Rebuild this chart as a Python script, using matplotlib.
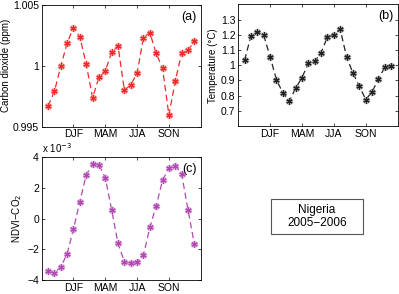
import matplotlib
matplotlib.use("Agg")
import matplotlib.pyplot as plt
from matplotlib.patches import Rectangle
import numpy as np

plt.rcParams['font.family'] = ['Liberation Sans', 'DejaVu Sans']

months = list(range(1, 25))
season_ticks = [5, 10, 15, 20]
season_labels = ['DJF', 'MAM', 'JJA', 'SON']

co2 = [0.99670, 0.99790, 0.99996, 1.00188, 1.00314, 1.00237, 1.00015, 0.99738,
       0.99905, 0.99958, 1.00111, 1.00163, 0.99801, 0.99842, 0.99941, 1.00232,
       1.00273, 1.00103, 0.99979, 0.99596, 0.99875, 1.00103, 1.00130, 1.00201]
temp = [1.033, 1.194, 1.221, 1.197, 1.057, 0.904, 0.819, 0.762, 0.849, 0.919,
        1.013, 1.026, 1.083, 1.186, 1.201, 1.236, 1.055, 0.948, 0.862, 0.775,
        0.825, 0.910, 0.987, 0.998]
ndvi_co2_e3 = [-3.41, -3.52, -3.17, -2.28, -0.67, 1.11, 2.87, 3.54, 3.52, 2.67,
               0.57, -1.61, -2.80, -2.91, -2.80, -2.39, -0.57, 0.83, 2.50, 3.33,
               3.46, 2.93, 0.59, -1.65]

fig = plt.figure(figsize=(3.99, 2.94), dpi=100)
ax_a = fig.add_axes([0.1045, 0.569, 0.3985, 0.414])
ax_b = fig.add_axes([0.597, 0.571, 0.3995, 0.414])
ax_c = fig.add_axes([0.1045, 0.0476, 0.3985, 0.417])

fs = 7.5
lfs = 7

def draw(ax, y, col, halo, label):
    ax.plot(months, y, color=col, lw=0.9, dashes=(5, 3), zorder=2)
    ax.plot(months, y, ls='none', marker='o', ms=5.5, mfc=halo, mec='none', alpha=0.6, zorder=3)
    ax.plot(months, y, ls='none', marker=(6, 2, 0), ms=4.5, mec=col, mew=0.9, zorder=4)
    ax.plot(months, y, ls='none', marker='o', ms=2, mfc=col, mec='none', zorder=5)
    ax.set_xlim(0, 25)
    ax.set_xticks(season_ticks)
    ax.set_xticklabels(season_labels)
    ax.tick_params(direction='in', length=2.5, width=0.5, labelsize=fs, top=True, right=True, pad=2)
    for s in ax.spines.values():
        s.set_linewidth(0.6)
    ax.text(0.975, 0.905, label, transform=ax.transAxes, ha='right', va='center', fontsize=9)

draw(ax_a, co2, '#ee2a2a', '#ff9c9c', '(a)')
ax_a.set_ylim(0.995, 1.005)
ax_a.set_yticks([0.995, 1.0, 1.005])
ax_a.set_yticklabels(['0.995', '1', '1.005'])
ax_a.set_ylabel('Carbon dioxide (ppm)', fontsize=lfs, labelpad=1.5)

draw(ax_b, temp, '#222222', '#aaaaaa', '(b)')
ax_b.set_ylim(0.6, 1.4)
ax_b.set_yticks([0.7, 0.8, 0.9, 1.0, 1.1, 1.2, 1.3])
ax_b.set_yticklabels(['0.7', '0.8', '0.9', '1', '1.1', '1.2', '1.3'])
ax_b.set_ylabel('Temperature (\u00b0C)', fontsize=lfs, labelpad=2)

draw(ax_c, ndvi_co2_e3, '#b04ab0', '#dba6db', '(c)')
ax_c.set_ylim(-4, 4)
ax_c.set_yticks([-4, -2, 0, 2, 4])
ax_c.set_yticklabels(['\u22124', '\u22122', '0', '2', '4'])
ax_c.set_ylabel('NDVI\u2212CO$_2$', fontsize=lfs, labelpad=2)
ax_c.text(0.0, 1.02, 'x 10$^{-3}$', transform=ax_c.transAxes, ha='left', va='bottom', fontsize=7)

bx0, bx1, by0, by1 = 271 / 399, 363 / 399, 1 - 234 / 294, 1 - 198.7 / 294
fig.patches.append(Rectangle((bx0, by0), bx1 - bx0, by1 - by0, transform=fig.transFigure,
                             fc='white', ec='#555555', lw=0.8))
fig.text((bx0 + bx1) / 2, (by0 + by1) / 2, 'Nigeria\n2005\u22122006', ha='center', va='center',
         fontsize=8.5, linespacing=1.1)

fig.savefig('out.png', dpi=100)
